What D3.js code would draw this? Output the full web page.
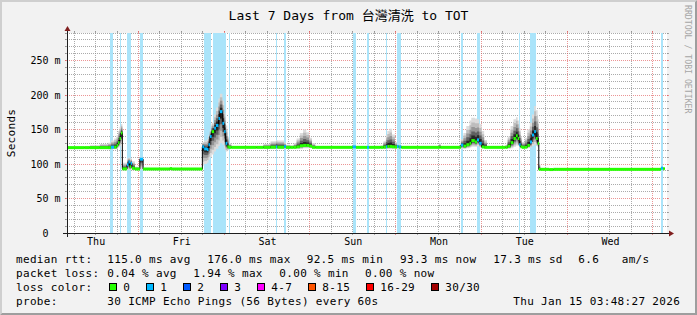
<!DOCTYPE html>
<html><head><meta charset="utf-8">
<script src="https://cdn.jsdelivr.net/npm/d3@7"></script>
<style>
html,body{margin:0;padding:0;background:#f2f2f2;}
svg{display:block;}
text{font-family:"DejaVu Sans Mono","Noto Sans CJK TC",monospace;fill:#000;}
</style></head>
<body><svg id="c" width="697" height="315"></svg>
<script>
// ---------------- data ----------------
const title = "Last 7 Days from 台灣清洗 to TOT";
const yAxisTitle = "Seconds";
const watermark = "RRDTOOL / TOBI OETIKER";
const windowStart = Date.UTC(2026, 0, 8, 3, 59, 0);   // graph window start
const windowHours = 168;                               // last 7 days
const yMax = 290;
const yTickValues = [0, 50, 100, 150, 200, 250];
const yTickLabels = ["0\u00a0\u00a0", "50 m", "100 m", "150 m", "200 m", "250 m"];
const dayLabels = ["Thu", "Fri", "Sat", "Sun", "Mon", "Tue", "Wed"];

// median rtt samples: hours since window start, ms, lost pings, smoke low/high (ms)
const medHours = [0,5.0,6.4,9.2,11.5,12.3,13.2,13.9,14.3,14.7,15.1,15.5,16.8,17.2,17.5,17.8,18.2,19.0,20.4,21.3,28.8,29.4,
  37.9,38.4,39.2,39.6,40.0,40.5,41.2,41.7,42.4,42.8,43.5,44.0,44.4,44.9,45.3,46.0,53.0,55.0,57.0,58.5,58.9,60.8,61.3,62.5,
  63.5,64.3,65.2,66.1,67.0,67.8,68.6,69.5,80.0,80.9,84.0,84.6,87.8,88.6,89.3,89.7,90.3,91.0,91.8,92.4,92.9,93.1,93.6,
  104.2,104.6,109.8,110.3,111.0,111.8,112.7,113.2,114.2,114.8,115.4,116.1,116.8,117.6,122.8,123.4,124.2,125.0,125.7,126.2,
  126.6,127.0,127.4,128.2,128.9,129.6,130.2,130.8,131.3,131.8,132.1,132.5,135.0,136.2,166.3,166.9,167.4];
const medMs = [123.8,123.8,123.8,123.8,123.8,124.5,124.5,127,131,137,145,93,99,103,96,101,94,92.8,107,92.8,93.3,92.8,
  125,122,121,128,140,147,152,156,166,176,159,147,130,125,124.2,124.2,124.2,124.2,124.4,125,124.4,125.5,124.2,124.2,
  124.2,125,126.5,127,127,126,124.2,124.2,124.8,124.2,124.2,124.2,124.2,124.5,125,125.5,125.5,125,124.5,125.5,124.5,125,124.2,
  124.2,124.2,124.2,127.5,126,128,130,134,132,135,130,124.8,124.2,124.2,124.2,126,131,137,141,137,
  128,125,124.2,124.5,127,132,142,147,137,130,92.3,92.3,92.0,92.3,94,93.3,93.3];
const medLoss = [0,0,0,0,0,1,0,0,0,0,0,0,1,1,0,1,0,0,1,0,0,0,
  1,1,1,1,1,0,1,1,1,1,1,1,1,0,0,0,0,0,0,1,0,1,0,0,
  0,0,0,0,0,0,0,0,1,0,1,0,0,0,1,0,0,0,0,1,0,1,0,
  0,0,0,1,0,0,0,0,0,1,1,0,0,0,0,0,0,0,0,0,
  1,0,0,0,0,1,1,1,0,0,0,0,0,0,1,0,0];
const smokeLo = [123,123,122.5,122,121.5,121.5,121.5,122,124,126,130,91,91,92,91,92,91,91.5,92,92,92,92,
  98,100,102,106,110,114,118,122,126,130,128,122,118,120,122,123,123,122,122,122,122,122,122,123,
  123,122,122,123,123,123,123,123,123,123,123,123,123,122,122,122,122,122,123,123,123,123,123,
  123,123,123,122,122,123,124,125,125,126,124,123,123,123,123,122,123,125,127,126,
  124,123,123,123,123,124,126,128,126,124,91,91.5,91.5,91.5,92,92.5,92.5];
const smokeHi = [124.8,125.5,127,129,131,134,137,142,148,154,158,102,108,110,108,108,104,96,109,94,95.5,94,
  132,134,136,142,150,160,172,182,195,202,192,174,156,140,130,125.5,126,129,133,135,134,131,128,127,
  130,137,145,150,146,138,130,125.5,126,125.5,126,125.5,127,133,142,148,151,143,132,128,127,127,125.5,
  130,125.5,127,136,145,155,163,167,166,165,158,148,135,125.5,128,140,155,165,168,163,
  152,140,132,138,150,160,172,184,178,165,100,93.5,93,93.5,95,94,94];

// packet-loss periods (hours since window start)
const lossStart = [12.0,14.85,16.7,17.45,20.45,38.35,40.8,45.3,58.5,60.75,80.0,83.9,89.25,92.3,93.05,110.25,114.7,126.55,129.55,130.55,166.3];
const lossEnd   = [12.95,15.2,17.3,17.9,21.35,40.25,44.5,45.65,58.9,61.3,80.9,84.65,89.7,92.9,93.6,110.95,115.65,126.9,130.4,131.25,166.95];

// legend
const rttStats  = ["115.0 ms avg", "176.0 ms max", "92.5 ms min", "93.3 ms now", "17.3 ms sd", "6.6", "am/s"];
const lossStats = ["0.04 % avg", "1.94 % max", "0.00 % min", "0.00 % now"];
const lossLabels = ["0", "1", "2", "3", "4-7", "8-15", "16-29", "30/30"];
const lossColors = ["#26ff00", "#00b8ff", "#0059ff", "#7e00ff", "#ff00ff", "#ff5500", "#ff0000", "#a10000"];
const probeText = "30 ICMP Echo Pings (56 Bytes) every 60s";
const stampText = "Thu Jan 15 03:48:27 2026";

// ---------------- drawing ----------------
const W = 697, H = 315;
const X0 = 67, XS = 600, Y0 = 233, YS = 200;
const svg = d3.select("#c");
const t = h => new Date(windowStart + h * 3600e3);
const x = d3.scaleUtc().domain([t(0), t(windowHours)]).range([X0, X0 + XS]);
const y = d3.scaleLinear().domain([0, yMax]).range([Y0, Y0 - YS]);
const cr = v => Math.floor(v) + 0.5;

svg.append("rect").attr("width", W).attr("height", H).attr("fill", "#f2f2f2");
svg.append("polygon").attr("points", `0,0 0,${H} 2,${H-2} 2,2 ${W-2},2 ${W},0`).attr("fill", "#cfcfcf");
svg.append("polygon").attr("points", `${W},0 ${W},${H} 0,${H} 2,${H-2} ${W-2},${H-2} ${W-2},2`).attr("fill", "#9e9e9e");
svg.append("rect").attr("x", X0).attr("y", Y0 - YS).attr("width", XS).attr("height", YS).attr("fill", "#fff");

// grid
const GRID = "rgba(143,143,143,0.75)", MGRID = "rgba(222,79,79,0.6)";
const g = svg.append("g").attr("shape-rendering", "crispEdges");
for (let v = 10; v <= yMax; v += 10) {
  const major = v % 50 === 0;
  const yy = cr(y(v));
  const col = major ? MGRID : GRID;
  g.append("line").attr("x1", X0 - 2).attr("x2", X0 + XS + 2).attr("y1", yy).attr("y2", yy)
    .attr("stroke", col).attr("stroke-dasharray", "1,1");
  g.append("line").attr("x1", X0 - 2).attr("x2", X0).attr("y1", yy).attr("y2", yy).attr("stroke", col);
  g.append("line").attr("x1", X0 + XS).attr("x2", X0 + XS + 2).attr("y1", yy).attr("y2", yy).attr("stroke", col);
}
const midnights = d3.utcDay.range(t(0), t(windowHours)).map(d => +d);
d3.utcHour.every(6).range(t(0), t(windowHours)).forEach(d => {
  const major = midnights.includes(+d);
  const xx = cr(x(d));
  const col = major ? MGRID : GRID;
  g.append("line").attr("x1", xx).attr("x2", xx).attr("y1", Y0 - YS - 2).attr("y2", Y0 + 2)
    .attr("stroke", col).attr("stroke-dasharray", "1,1");
  g.append("line").attr("x1", xx).attr("x2", xx).attr("y1", Y0).attr("y2", Y0 + 2).attr("stroke", col);
  g.append("line").attr("x1", xx).attr("x2", xx).attr("y1", Y0 - YS - 2).attr("y2", Y0 - YS).attr("stroke", col);
});

// loss bands
const bands = lossStart.map((s, i) => [s, lossEnd[i]]);
svg.append("g").selectAll("rect").data(bands).join("rect")
  .attr("x", d => Math.round(x(t(d[0]))))
  .attr("width", d => Math.max(1, Math.round(x(t(d[1]))) - Math.round(x(t(d[0])))))
  .attr("y", Y0 - YS).attr("height", YS)
  .attr("fill", "#aae4fa");

// smoke
const pts = medHours.map((h, i) => ({h, m: medMs[i], l: medLoss[i], lo: smokeLo[i], hi: smokeHi[i]}));
const layers = [[1.0, "#dcdcdc"], [0.8, "#bdbdbd"], [0.6, "#969696"], [0.4, "#606060"], [0.22, "#262626"]];
const gSmoke = svg.append("g");
layers.forEach(([f, col]) => {
  const area = d3.area().curve(d3.curveStepAfter)
    .x(d => x(t(d.h)))
    .y0(d => y(d.m - f * (d.m - d.lo)))
    .y1(d => y(d.m + f * (d.hi - d.m)));
  gSmoke.append("path").attr("d", area(pts)).attr("fill", col);
});

// median
const line = d3.line().curve(d3.curveStepAfter).x(d => x(t(d.h))).y(d => y(d.m));
svg.append("path").attr("d", line(pts)).attr("fill", "none").attr("stroke", "#000").attr("stroke-width", 1);
svg.append("g").selectAll("rect").data(pts.slice(0, -1)).join("rect")
  .attr("x", (d, i) => x(t(d.h)))
  .attr("width", (d, i) => Math.max(1.5, x(t(pts[i + 1].h)) - x(t(d.h))))
  .attr("y", d => y(d.m) - 1.5).attr("height", 3)
  .attr("fill", d => lossColors[d.l]);

// axes + arrows
const AX = "#1f1f1f", AR = "#801f1f";
const ga = svg.append("g").attr("shape-rendering", "crispEdges");
ga.append("line").attr("x1", X0 - 4).attr("x2", X0 + XS + 4).attr("y1", Y0 + 0.5).attr("y2", Y0 + 0.5).attr("stroke", AX);
ga.append("line").attr("x1", X0 + 0.5).attr("x2", X0 + 0.5).attr("y1", Y0 + 4).attr("y2", Y0 - YS - 4).attr("stroke", AX);
svg.append("polygon").attr("points", `${X0+XS+2},${Y0-2.5} ${X0+XS+2},${Y0+3.5} ${X0+XS+7},${Y0+0.5}`).attr("fill", AR);
svg.append("polygon").attr("points", `${X0-2.5},${Y0-YS-2} ${X0+3.5},${Y0-YS-2} ${X0+0.5},${Y0-YS-7}`).attr("fill", AR);

// y labels
svg.append("g").selectAll("text").data(yTickValues).join("text")
  .attr("x", 60.5).attr("y", d => cr(y(d)) + 3.8)
  .attr("text-anchor", "end").attr("font-size", "10px").style("white-space", "pre")
  .text((d, i) => yTickLabels[i]);
// x labels (day names at noon)
const labelDays = d3.utcDay.range(d3.utcDay.floor(t(0)), t(windowHours))
  .map(d => d3.utcHour.offset(d, 12)).filter(d => d >= t(0) && d <= t(windowHours));
svg.append("g").selectAll("text").data(labelDays).join("text")
  .attr("x", d => x(d) + 0.5).attr("y", 245)
  .attr("text-anchor", "middle").attr("font-size", "10px")
  .text((d, i) => dayLabels[i]);

// title, unit, watermark
svg.append("text").attr("x", 348.5).attr("y", 19.5).attr("text-anchor", "middle").attr("font-size", "13px").text(title);
svg.append("text").attr("transform", "translate(15,133) rotate(-90)").attr("text-anchor", "middle")
  .attr("font-size", "11px").attr("letter-spacing", "0.3").text(yAxisTitle);
svg.append("text").attr("transform", "translate(685,5) rotate(90)").attr("font-size", "8.2px")
  .style("fill", "#a6a6a6").text(watermark);

// legend
const lg = svg.append("g").attr("font-size", "11px").attr("letter-spacing", "0.33");
const put = (s, xx, yy) => lg.append("text").attr("x", xx).attr("y", yy).text(s);
const row = [262.5, 276.5, 290.5, 304.5];
put("median rtt:", 16, row[0]);
[107.3, 207.3, 306.7, 400, 493.3, 578.3, 621.7].forEach((xx, i) => put(rttStats[i], xx, row[0]));
put("packet loss:", 16, row[1]);
[107.3, 193.3, 279.3, 365].forEach((xx, i) => put(lossStats[i], xx, row[1]));
put("loss color:", 16, row[2]);
let bx = 108.5;
lossLabels.forEach((lab, i) => {
  lg.append("rect").attr("x", Math.round(bx) + 0.5).attr("y", 283.5).attr("width", 7).attr("height", 7)
    .attr("fill", lossColors[i]).attr("stroke", "#000").attr("stroke-width", 1);
  put(lab, bx + 14.8, row[2]);
  bx += 30 + 7 * lab.length;
});
put("probe:", 16, row[3]);
put(probeText, 107.3, row[3]);
put(stampText, 513.3, row[3]);
</script>
</body></html>
